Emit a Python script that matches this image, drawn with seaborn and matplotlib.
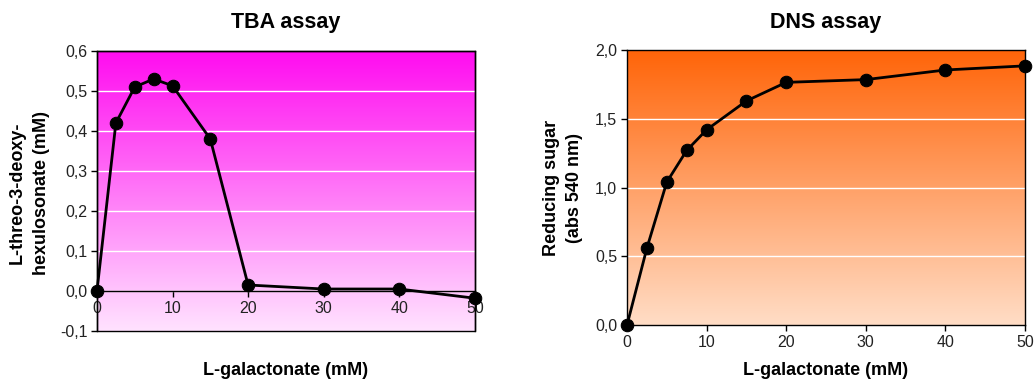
import numpy as np
import pandas as pd
import matplotlib
matplotlib.use("Agg")
import matplotlib.pyplot as plt
import seaborn as sns
from matplotlib.colors import LinearSegmentedColormap
from matplotlib.patches import Rectangle
from matplotlib.ticker import FuncFormatter

# data
galactonate_mM = [0, 2.5, 5, 7.5, 10, 15, 20, 30, 40, 50]
tba_values = [0.0, 0.42, 0.51, 0.53, 0.513, 0.38, 0.015, 0.005, 0.005, -0.018]
dns_values = [0.0, 0.56, 1.04, 1.27, 1.42, 1.63, 1.765, 1.785, 1.855, 1.885]

tba_df = pd.DataFrame({"x": galactonate_mM, "y": tba_values})
dns_df = pd.DataFrame({"x": galactonate_mM, "y": dns_values})

sns.set_style("white")
plt.rcParams["font.family"] = ["Liberation Sans", "DejaVu Sans"]
plt.rcParams["text.color"] = "black"
plt.rcParams["axes.labelcolor"] = "black"
plt.rcParams["xtick.color"] = "black"
plt.rcParams["ytick.color"] = "black"

fig = plt.figure(figsize=(10.35, 3.82), dpi=100)
ax1 = fig.add_axes([0.0937, 0.1335, 0.365, 0.733])
ax2 = fig.add_axes([0.6058, 0.149, 0.3845, 0.72])

comma = FuncFormatter(lambda v, p: f"{v:.1f}".replace(".", ","))


def gradient(ax, top, bottom):
    cmap = LinearSegmentedColormap.from_list("g", [bottom, top])
    grad = np.linspace(0, 1, 256).reshape(-1, 1)
    ax.imshow(grad, cmap=cmap, aspect="auto", origin="lower",
              extent=[0, 1, 0, 1], transform=ax.transAxes, zorder=0)


def style(ax, yticks):
    ax.set_yticks(yticks)
    ax.yaxis.set_major_formatter(comma)
    ax.set_xticks([0, 10, 20, 30, 40, 50])
    ax.set_xlim(0, 50)
    ax.set_ylim(yticks[0], yticks[-1])
    for y in yticks[1:-1]:
        ax.axhline(y, color="white", lw=1, zorder=1)
    ax.tick_params(axis="both", direction="out", length=4, width=1,
                   labelsize=11.5, color="black", labelcolor="#222222",
                   left=True, bottom=True, pad=3)
    for s in ax.spines.values():
        s.set_color("black")
        s.set_linewidth(1)


# ---- TBA assay ----
gradient(ax1, "#ff0cf0", "#ffe2ff")
sns.lineplot(data=tba_df, x="x", y="y", ax=ax1, color="black", lw=2,
             marker="o", markersize=9, markeredgecolor="black", zorder=3,
             clip_on=False)
style(ax1, [-0.1, 0.0, 0.1, 0.2, 0.3, 0.4, 0.5, 0.6])
ax1.spines["bottom"].set_position(("data", 0))
ax1.spines["bottom"].set_zorder(2)
ax1.add_patch(Rectangle((0, 0), 1, 1, transform=ax1.transAxes, fill=False,
                        edgecolor="black", lw=1, zorder=2, clip_on=False))
ax1.set_title("TBA assay", fontsize=15.5, fontweight="bold", pad=16.5)
ax1.set_xlabel("L-galactonate (mM)", fontsize=13, fontweight="bold")
ax1.set_ylabel("L-threo-3-deoxy-\nhexulosonate (mM)", fontsize=13,
               fontweight="bold", linespacing=1.6)
ax1.xaxis.set_label_coords(0.5, -0.112)
ax1.yaxis.set_label_coords(-0.124, 0.493)

# ---- DNS assay ----
gradient(ax2, "#ff6408", "#ffddc6")
sns.lineplot(data=dns_df, x="x", y="y", ax=ax2, color="black", lw=2,
             marker="o", markersize=9, markeredgecolor="black", zorder=3,
             clip_on=False)
style(ax2, [0.0, 0.5, 1.0, 1.5, 2.0])
ax2.set_title("DNS assay", fontsize=15.5, fontweight="bold", pad=16)
ax2.set_xlabel("L-galactonate (mM)", fontsize=13, fontweight="bold")
ax2.set_ylabel("Reducing sugar\n(abs 540 nm)", fontsize=13,
               fontweight="bold", linespacing=1.45)
ax2.xaxis.set_label_coords(0.5, -0.135)
ax2.yaxis.set_label_coords(-0.11, 0.498)

fig.savefig("out.png", dpi=100)
